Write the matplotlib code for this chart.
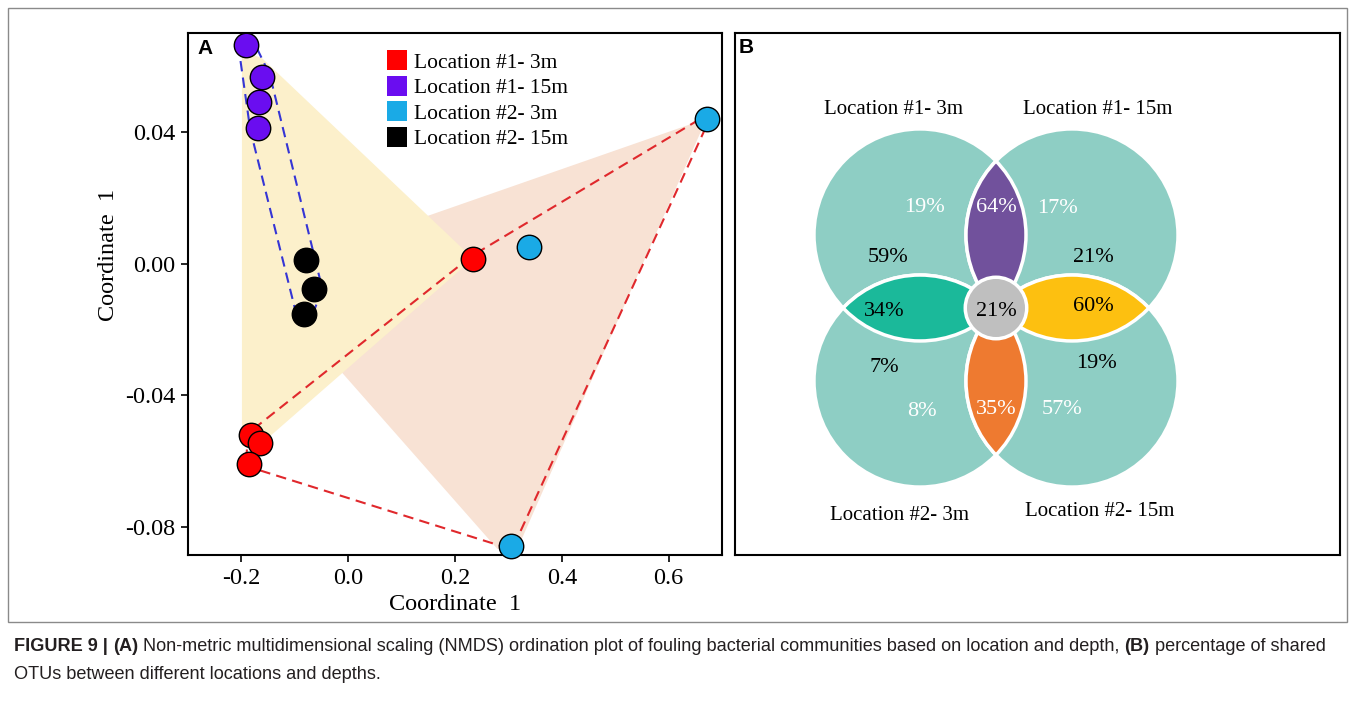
import numpy as np
import matplotlib.pyplot as plt
from matplotlib.patches import Patch, Polygon, Circle, Rectangle

# ---- data ----
groups = ['Location #1- 3m', 'Location #1- 15m', 'Location #2- 3m', 'Location #2- 15m']
group_colors = ['#FF0000', '#6A0DF0', '#1AAAE6', '#000000']

loc1_3m_x = [0.234, -0.182, -0.165, -0.186]
loc1_3m_y = [0.0015, -0.0520, -0.0544, -0.0608]
loc1_15m_x = [-0.191, -0.161, -0.167, -0.169]
loc1_15m_y = [0.0665, 0.0565, 0.0489, 0.0413]
loc2_3m_x = [0.671, 0.339, 0.304]
loc2_3m_y = [0.0440, 0.0049, -0.0857]
loc2_15m_x = [-0.079, -0.064, -0.082]
loc2_15m_y = [0.0012, -0.0076, -0.0152]

# shaded areas behind the points
yellow_x = [-0.199, -0.161, 0.234, -0.156, -0.199]
yellow_y = [0.0647, 0.0623, 0.0015, -0.0538, -0.0553]
peach_x = [0.671, -0.015, -0.015, 0.279, 0.313]
peach_y = [0.0440, 0.0052, -0.0325, -0.0866, -0.0881]

xticks = [-0.2, 0.0, 0.2, 0.4, 0.6]
yticks = [-0.08, -0.04, 0.0, 0.04]

# venn panel
venn_titles = ['Location #1- 3m', 'Location #1- 15m', 'Location #2- 3m', 'Location #2- 15m']
venn_pcts = [19, 64, 17, 59, 21, 34, 21, 60, 7, 19, 8, 35, 57]
venn_white = [True, True, True, False, False, False, False, False, False, False, True, True, True]
venn_pos = [(-0.67, 0.95), (0.0, 0.95), (0.58, 0.94), (-1.02, 0.48), (0.92, 0.48),
            (-1.05, -0.03), (0.0, -0.03), (0.92, 0.01), (-1.05, -0.56), (0.95, -0.52),
            (-0.70, -0.98), (0.0, -0.96), (0.62, -0.96)]
venn_title_pos = [(-0.97, 1.87), (0.96, 1.87), (-0.91, -1.96), (0.98, -1.92)]

caption1 = [("FIGURE 9 | ", 'bold'), ("(A)", 'bold'),
            (" Non-metric multidimensional scaling (NMDS) ordination plot of fouling bacterial communities based on location and depth, ", 'normal'),
            ("(B)", 'bold'), (" percentage of shared", 'normal')]
caption2 = [("OTUs between different locations and depths.", 'normal')]

plt.rcParams['font.family'] = ['Liberation Serif', 'DejaVu Serif']
plt.rcParams['axes.unicode_minus'] = False

W, H = 1355, 712
fig = plt.figure(figsize=(W / 100, H / 100), dpi=100)


def fbox(x0, y0, x1, y1):
    return [x0 / W, 1 - y1 / H, (x1 - x0) / W, (y1 - y0) / H]


def hull(pts):
    pts = sorted(map(tuple, pts))
    def cross(o, a, b):
        return (a[0] - o[0]) * (b[1] - o[1]) - (a[1] - o[1]) * (b[0] - o[0])
    lo, up = [], []
    for p in pts:
        while len(lo) >= 2 and cross(lo[-2], lo[-1], p) <= 0:
            lo.pop()
        lo.append(p)
    for p in reversed(pts):
        while len(up) >= 2 and cross(up[-2], up[-1], p) <= 0:
            up.pop()
        up.append(p)
    return np.array(lo[:-1] + up[:-1])


def padded_hull(ax, xs, ys, pad):
    disp = ax.transData.transform(np.column_stack([xs, ys]))
    ang = np.linspace(0, 2 * np.pi, 24, endpoint=False)
    ring = np.column_stack([np.cos(ang), np.sin(ang)]) * pad
    allp = (disp[:, None, :] + ring[None, :, :]).reshape(-1, 2)
    h = hull(allp)
    return ax.transData.inverted().transform(h)


# outer frame
fig.add_artist(Rectangle((8 / W, 1 - 622 / H), 1339 / W, 614 / H, transform=fig.transFigure,
                         fill=False, ec='#8a8a8a', lw=1))

# ---- panel A ----
ax = fig.add_axes(fbox(188, 33, 722, 555))
ax.set_xlim(-0.3, 0.7)
ax.set_ylim(-0.0885, 0.070)

ax.add_patch(Polygon(np.column_stack([peach_x, peach_y]), closed=True, fc='#F8E2D4', ec='none', zorder=1))
ax.add_patch(Polygon(np.column_stack([yellow_x, yellow_y]), closed=True, fc='#FCF0CB', ec='none', zorder=1.1))

h15 = padded_hull(ax, loc1_15m_x + loc2_15m_x, loc1_15m_y + loc2_15m_y, 8)
ax.add_patch(Polygon(h15, closed=True, fill=False, ec='#3535D5', lw=1.5, ls=(0, (5, 3)), zorder=2))
h3 = padded_hull(ax, loc1_3m_x + loc2_3m_x, loc1_3m_y + loc2_3m_y, 3)
ax.add_patch(Polygon(h3, closed=True, fill=False, ec='#E0282C', lw=1.5, ls=(0, (5, 3)), zorder=2))

series = [(loc1_3m_x, loc1_3m_y), (loc1_15m_x, loc1_15m_y), (loc2_3m_x, loc2_3m_y), (loc2_15m_x, loc2_15m_y)]
for (xs, ys), c in zip(series, group_colors):
    ax.scatter(xs, ys, s=310, c=c, edgecolors='black', linewidths=1, zorder=3, clip_on=False)

ax.set_xticks(xticks)
ax.set_xticklabels(['%.1f' % v for v in xticks])
ax.set_yticks(yticks)
ax.set_yticklabels(['%.2f' % v for v in yticks])
ax.tick_params(direction='out', length=5, width=1.2, labelsize=17.5, pad=4)
for s in ['left', 'bottom', 'right', 'top']:
    ax.spines[s].set_linewidth(1.5)
ax.set_xlabel('Coordinate  1', fontsize=17.5)
ax.set_ylabel('Coordinate  1', fontsize=17.5)
ax.xaxis.set_label_coords(0.5, -0.075)
ax.yaxis.set_label_coords(-0.13, 0.575)

handles = [Patch(fc=c, ec='none', label=g) for g, c in zip(groups, group_colors)]
ax.legend(handles=handles, loc='upper left', bbox_to_anchor=(0.373, 0.967), frameon=False,
          fontsize=15.5, handlelength=0.9, handleheight=1.05, handletextpad=0.35,
          labelspacing=0.15, borderpad=0, borderaxespad=0)
ax.text(0.032, 0.971, 'A', transform=ax.transAxes, ha='center', va='center',
        fontsize=15, fontweight='bold', family='Liberation Sans')

# ---- panel B ----
axb = fig.add_axes(fbox(735, 33, 1340, 555))
axb.set_xlim(-2.462, 3.245)
axb.set_ylim(-2.33, 2.594)
axb.set_xticks([])
axb.set_yticks([])
for s in axb.spines.values():
    s.set_linewidth(1.5)

dx, dy = 0.717, 0.689
centers = [(-dx, dy), (dx, dy), (-dx, -dy), (dx, -dy)]
for c in centers:
    axb.add_patch(Circle(c, 1, fc='#8ECEC4', ec='white', lw=2.5, zorder=1))

lenses = [((0, 1), '#71519C'), ((0, 2), '#1BB99A'), ((1, 3), '#FDC010'), ((2, 3), '#EE7A30')]
for (a, b), col in lenses:
    p = Circle(centers[b], 1, fc=col, ec='white', lw=2.5, zorder=2)
    axb.add_patch(p)
    p.set_clip_path(Circle(centers[a], 1, transform=axb.transData))
    q = Circle(centers[a], 1, fill=False, ec='white', lw=2.5, zorder=2.1)
    axb.add_patch(q)
    q.set_clip_path(Circle(centers[b], 1, transform=axb.transData))
axb.add_patch(Circle((0, 0), 0.29, fc='#BFBFBF', ec='white', lw=2.5, zorder=3))

for v, (x, y), wht in zip(venn_pcts, venn_pos, venn_white):
    axb.text(x, y, '%d%%' % v, ha='center', va='center', fontsize=16,
             color='white' if wht else 'black', zorder=4)
for t, (x, y) in zip(venn_titles, venn_title_pos):
    axb.text(x, y, t, ha='center', va='center', fontsize=15, zorder=4)
axb.text(0.018, 0.973, 'B', transform=axb.transAxes, ha='center', va='center',
         fontsize=15, fontweight='bold', family='Liberation Sans')

# ---- caption ----
renderer = fig.canvas.get_renderer()
for line, base in [(caption1, 651), (caption2, 679)]:
    x = 14 / W
    for s, wt in line:
        t = fig.text(x, 1 - base / H, s, fontsize=13.1, fontweight=wt, color='#231F20',
                     family='Liberation Sans', va='baseline', ha='left')
        x += t.get_window_extent(renderer).width / W

fig.savefig('out.png', dpi=100)
